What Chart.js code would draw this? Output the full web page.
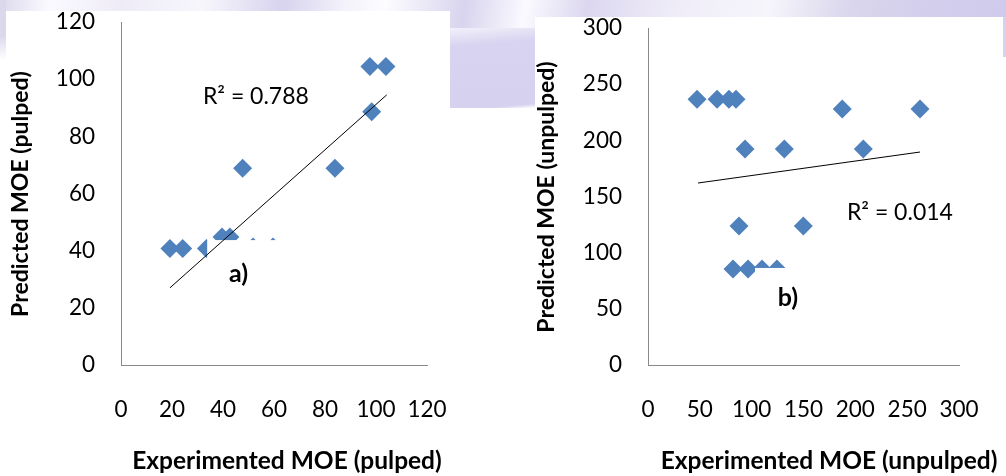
<!DOCTYPE html>
<html><head><meta charset="utf-8">
<script src="https://cdn.jsdelivr.net/npm/chart.js@4.4.1/dist/chart.umd.min.js"></script>
<style>
html,body{margin:0;padding:0;width:1006px;height:476px;overflow:hidden;background:#fff;position:relative}
.bg{position:absolute}
#topband{left:0;top:0;width:1006px;height:40px;background:linear-gradient(100deg,#dcd8ec 0%,#fbfaff 5%,#eeebf7 12%,#f7f6fc 20%,#d8d3ee 28%,#f3f1fa 34%,#fdfdff 38%,#d9d4ee 46%,#fafaff 52%,#dcd7ef 58%,#eeebf8 66%,#f6f5fb 76%,#dad6ec 84%,#d3ceec 92%,#d0cbec 100%)}
#leftedge{left:0;top:0;width:6px;height:60px;background:linear-gradient(#dcd8ec 60%,#fff)}
#gap{left:450px;top:28px;width:85px;height:80px;background:linear-gradient(175deg,#f2f0fa 0%,#d8d3f0 22%,#d6d1ef 95%,#fff 100%)}
#rightedge{left:1003px;top:17px;width:3px;height:40px;background:#d6d1ef}
#wa{position:absolute;left:6px;top:11px;width:444px;height:465px;background:#fff}
#wb{position:absolute;left:535px;top:17px;width:468px;height:459px;background:#fff}
canvas{display:block}
</style></head>
<body>
<div class="bg" id="topband"></div>
<div class="bg" id="leftedge"></div>
<div class="bg" id="gap"></div>
<div class="bg" id="rightedge"></div>
<div id="wa"><canvas id="ca" width="444" height="465"></canvas></div>
<div id="wb"><canvas id="cb" width="468" height="459"></canvas></div>
<script>
// ---- Panel a) pulped ----
const pulpedExperimented = [19.2, 24.2, 33.5, 39.6, 42.7, 51.8, 59.6, 47.7, 83.9, 98.3, 97.6, 103.9];
const pulpedPredicted    = [40.8, 40.8, 40.8, 44.8, 44.8, 41.3, 41.3, 68.8, 68.8, 88.6, 104.4, 104.4];
const pulpedTrendX = [19.2, 104.2];
const pulpedTrendY = [27.0, 94.5];
const pulpedR2 = 'R² = 0.788';
const pulpedXTitle = 'Experimented MOE (pulped)';
const pulpedYTitle = 'Predicted MOE (pulped)';
const pulpedAxisMax = 120, pulpedStep = 20;

// ---- Panel b) unpulped ----
const unpulpedExperimented = [47.3, 66.6, 78.1, 84.9, 93.6, 131.5, 207.7, 187.4, 262.4, 87.8, 149.8, 82.0, 96.5, 110.0, 124.4];
const unpulpedPredicted    = [236.5, 236.5, 236.5, 236.5, 192.3, 192.3, 192.3, 227.9, 227.9, 123.7, 123.7, 85.5, 85.5, 85.5, 85.5];
const unpulpedTrendX = [48.2, 262.4];
const unpulpedTrendY = [162.0, 189.6];
const unpulpedR2 = 'R² = 0.014';
const unpulpedXTitle = 'Experimented MOE (unpulped)';
const unpulpedYTitle = 'Predicted MOE (unpulped)';
const unpulpedAxisMax = 300, unpulpedStep = 50;

const FONT = 'Lato';
const zip = (xs, ys) => xs.map((x, i) => ({x, y: ys[i]}));

const overlay = {
  id: 'overlay',
  afterDatasetDraw(chart, args, o) {
    if (args.index !== 1) return;
    const {x, y} = chart.scales, ctx = chart.ctx, m = o.mask;
    const x0 = x.getPixelForValue(m[0]), x1 = x.getPixelForValue(m[1]);
    const y0 = y.getPixelForValue(m[3]), y1 = y.getPixelForValue(m[2]);
    ctx.save(); ctx.fillStyle = '#fff'; ctx.fillRect(x0, y0, x1 - x0, y1 - y0); ctx.restore();
  },
  afterDraw(chart, args, o) {
    const {x, y} = chart.scales, ctx = chart.ctx;
    ctx.save();
    ctx.fillStyle = '#000';
    ctx.textAlign = 'center'; ctx.textBaseline = 'middle';
    ctx.font = '23px ' + FONT;
    ctx.fillText(o.r2.text, x.getPixelForValue(o.r2.at[0]), y.getPixelForValue(o.r2.at[1]));
    ctx.font = 'bold 25px ' + FONT;
    ctx.fillText(o.tag.text, x.getPixelForValue(o.tag.at[0]), y.getPixelForValue(o.tag.at[1]));
    // axis titles
    ctx.font = 'bold 24.5px ' + FONT;
    ctx.fillText(o.xTitle, o.xTitlePos[0], o.xTitlePos[1]);
    ctx.font = 'bold 23px ' + FONT;
    ctx.translate(o.yTitlePos[0], o.yTitlePos[1]);
    ctx.rotate(-Math.PI / 2);
    ctx.fillText(o.yTitle, 0, 0);
    ctx.restore();
  }
};

function makeChart(id, cfg) {
  return new Chart(document.getElementById(id), {
    type: 'scatter',
    data: {
      datasets: [
        {type: 'line', data: zip(cfg.tx, cfg.ty), borderColor: '#000', borderWidth: 1, pointRadius: 0, fill: false, tension: 0},
        {data: zip(cfg.xs, cfg.ys), pointStyle: 'rectRot', pointRadius: 9.5, pointHoverRadius: 9.5,
         backgroundColor: '#4F81BD', borderColor: '#4F81BD', borderWidth: 0}
      ]
    },
    options: {
      responsive: false, animation: false, events: [],
      layout: {padding: {top: 11, right: cfg.padRight, left: 0, bottom: 0}},
      plugins: {legend: {display: false}, tooltip: {enabled: false},
        overlay: {mask: cfg.mask, r2: cfg.r2, tag: cfg.tag, xTitle: cfg.xTitle, yTitle: cfg.yTitle,
                  xTitlePos: cfg.xTitlePos, yTitlePos: cfg.yTitlePos}},
      scales: {
        x: {type: 'linear', min: 0, max: cfg.max,
            afterFit: s => { s.height = 111; s.paddingLeft = 0; s.paddingRight = 0; },
            grid: {display: false, drawTicks: false}, border: {display: true, color: '#898989', width: 1},
            ticks: {stepSize: cfg.step, padding: 31, color: '#000', font: {family: FONT, size: 22.5}, autoSkip: false, maxRotation: 0}},
        y: {type: 'linear', min: 0, max: cfg.max,
            afterFit: s => { s.width = cfg.yWidth; s.paddingTop = 0; s.paddingBottom = 0; },
            grid: {display: false, drawTicks: false}, border: {display: true, color: '#898989', width: 1},
            ticks: {stepSize: cfg.step, padding: 26, color: '#000', font: {family: FONT, size: 22.5}}}
      }
    },
    plugins: [overlay]
  });
}

makeChart('ca', {
  xs: pulpedExperimented, ys: pulpedPredicted, tx: pulpedTrendX, ty: pulpedTrendY,
  max: pulpedAxisMax, step: pulpedStep, padRight: 23, yWidth: 115,
  mask: [33.8, 70, 25, 43.7],
  r2: {text: pulpedR2, at: [52.9, 93.8]},
  tag: {text: 'a)', at: [46.1, 32.0]},
  xTitle: pulpedXTitle, yTitle: pulpedYTitle,
  xTitlePos: [281, 450], yTitlePos: [15, 183]
});
makeChart('cb', {
  xs: unpulpedExperimented, ys: unpulpedPredicted, tx: unpulpedTrendX, ty: unpulpedTrendY,
  max: unpulpedAxisMax, step: unpulpedStep, padRight: 44, yWidth: 113,
  mask: [103.2, 170, 40, 86.4],
  r2: {text: unpulpedR2, at: [243, 135.8]},
  tag: {text: 'b)', at: [135, 60.1]},
  xTitle: unpulpedXTitle, yTitle: unpulpedYTitle,
  xTitlePos: [294, 444], yTitlePos: [12, 180]
});
</script>
</body></html>
